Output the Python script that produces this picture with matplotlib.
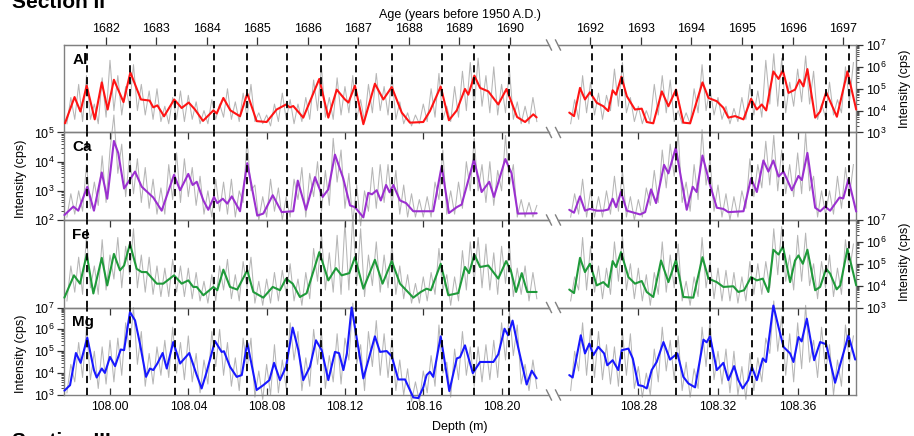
import numpy as np
import matplotlib
matplotlib.use("Agg")
import matplotlib.pyplot as plt
from matplotlib.lines import Line2D
from matplotlib.ticker import LogLocator, NullFormatter, FixedLocator, FormatStrFormatter

plt.rcParams['font.family'] = ['Liberation Sans', 'DejaVu Sans']
plt.rcParams['mathtext.default'] = 'regular'

# ---------------------------------------------------------------- data
elements = ['Al', 'Ca', 'Fe', 'Mg']
decades = {'Al': (3, 7), 'Ca': (2, 5), 'Fe': (3, 7), 'Mg': (3, 7)}

# raw XRF scans (log10 cps) on a 2 mm depth step
raw_depth_left = np.linspace(107.978, 108.218, 121)
raw_depth_right = np.linspace(108.246, 108.388, 72)

al_raw_left = [3.4, 4.6, 3.6, 5.2, 3.5, 5.6, 3.6, 4.3, 3.4, 5.5, 3.7, 6.3, 4.0, 5.6, 3.8, 5.1, 4.2, 6.1, 4.0, 5.2,
               3.8, 4.9, 3.6, 5.0, 3.5, 4.2, 3.4, 4.6, 3.6, 4.9, 3.5, 4.7, 3.6, 4.4, 3.4, 4.0, 3.4, 4.5, 3.6, 4.3,
               3.7, 5.0, 3.6, 4.4, 3.5, 4.8, 3.7, 5.2, 3.5, 3.9, 3.4, 3.8, 3.3, 4.3, 3.5, 4.8, 3.6, 4.5, 3.4, 4.3,
               3.5, 4.6, 3.6, 5.4, 4.0, 6.0, 3.7, 4.6, 3.6, 5.5, 3.8, 5.1, 3.9, 5.6, 3.6, 4.5, 3.5, 5.2, 3.9, 5.7,
               4.0, 5.1, 3.8, 5.6, 3.6, 4.4, 3.4, 3.9, 3.3, 3.8, 3.4, 4.3, 3.5, 5.0, 3.7, 5.7, 3.6, 4.2, 3.5, 5.1,
               3.7, 5.8, 4.0, 6.2, 4.1, 6.4, 4.2, 5.6, 3.9, 6.0, 3.8, 5.2, 3.9, 5.9, 3.6, 4.4, 3.4, 4.2, 3.4, 4.6,
               3.5]
al_raw_right = [3.4, 4.5, 3.6, 5.6, 3.9, 5.3, 3.8, 4.8, 3.6, 4.7, 4.0, 5.9, 4.2, 6.2, 3.9, 4.6, 3.5, 4.2, 3.4, 4.0,
                3.5, 5.2, 3.8, 5.6, 3.9, 5.4, 3.5, 4.0, 3.4, 3.9, 3.4, 5.0, 3.9, 6.1, 4.0, 5.0, 3.8, 4.6, 3.6, 4.2,
                3.4, 4.1, 3.5, 4.6, 3.6, 5.2, 3.8, 4.9, 3.7, 6.3, 4.3, 6.6, 4.2, 6.4, 3.9, 5.3, 4.2, 5.9, 4.4, 6.5,
                4.3, 5.8, 3.6, 4.3, 3.7, 5.3, 3.8, 4.5, 3.9, 6.0, 4.4, 6.2]
ca_raw_left = [2.1, 2.9, 2.2, 3.0, 2.3, 3.9, 2.4, 3.3, 2.5, 4.2, 2.6, 4.4, 5.6, 3.6, 4.6, 2.8, 4.2, 2.9, 4.1, 2.6,
               3.8, 2.4, 3.4, 2.2, 3.1, 2.2, 3.9, 2.7, 4.3, 2.6, 4.1, 2.8, 3.8, 2.5, 3.5, 2.2, 3.0, 2.1, 3.4, 2.3,
               3.3, 2.2, 3.4, 2.1, 3.0, 2.6, 4.8, 3.0, 3.2, 2.0, 2.8, 2.1, 3.4, 2.3, 3.1, 2.0, 2.8, 2.1, 3.4, 2.7,
               3.8, 2.1, 3.6, 2.8, 4.0, 2.3, 3.7, 2.5, 4.8, 3.3, 4.4, 2.4, 3.6, 1.9, 3.2, 1.8, 3.0, 2.3, 3.8, 2.4,
               3.9, 2.6, 3.9, 2.5, 3.7, 2.2, 3.2, 2.1, 2.9, 2.1, 2.7, 2.1, 2.8, 2.1, 3.3, 2.7, 4.4, 2.2, 3.0, 2.2,
               3.3, 2.4, 4.0, 3.0, 4.8, 3.0, 3.9, 2.6, 4.0, 2.5, 3.7, 3.0, 4.9, 3.2, 3.9, 2.1, 2.7, 2.1, 2.6, 2.1,
               2.5]
ca_raw_right = [2.1, 2.9, 2.2, 3.4, 2.1, 3.0, 2.1, 2.8, 2.1, 3.0, 2.2, 3.5, 2.3, 3.7, 2.1, 2.8, 2.0, 2.7, 2.1, 3.1,
                2.5, 3.7, 2.6, 4.4, 3.1, 4.6, 3.5, 5.0, 2.6, 3.3, 2.3, 3.9, 2.7, 5.1, 3.2, 4.1, 2.3, 3.2, 2.1, 2.9,
                2.0, 2.8, 2.1, 3.0, 2.4, 4.1, 2.8, 3.9, 3.1, 4.7, 3.2, 4.9, 3.0, 4.4, 2.9, 3.9, 2.8, 4.3, 2.9, 5.0,
                3.0, 3.5, 2.1, 3.0, 2.2, 3.0, 2.2, 3.5, 2.4, 3.8, 2.8, 3.9]
fe_raw_left = [3.3, 4.9, 3.7, 5.3, 3.6, 6.3, 3.9, 4.9, 3.6, 6.1, 3.8, 5.4, 4.3, 6.2, 3.9, 5.8, 4.5, 6.6, 3.9, 5.4,
               3.7, 5.3, 3.6, 4.9, 3.5, 4.8, 3.5, 5.2, 3.7, 4.9, 3.5, 4.8, 3.4, 4.6, 3.3, 4.2, 3.2, 4.5, 3.3, 4.9,
               3.8, 5.2, 3.4, 4.5, 3.3, 5.1, 3.9, 5.3, 3.2, 4.2, 3.1, 4.3, 3.2, 4.6, 3.3, 4.7, 3.6, 5.0, 3.3, 4.3,
               3.1, 4.6, 3.4, 5.7, 4.2, 6.4, 3.8, 5.5, 3.7, 6.3, 3.6, 6.9, 3.8, 7.2, 4.0, 6.6, 3.5, 5.4, 4.0, 6.0,
               3.7, 5.4, 3.9, 5.9, 3.6, 4.9, 3.4, 4.5, 3.2, 4.1, 3.2, 4.4, 3.3, 4.6, 3.6, 5.7, 3.8, 4.5, 3.1, 4.4,
               3.3, 5.6, 3.8, 6.0, 4.2, 6.2, 3.9, 5.9, 3.8, 5.5, 3.6, 5.8, 4.1, 5.9, 3.5, 4.8, 3.6, 4.9, 3.3, 4.6,
               3.4]
fe_raw_right = [3.3, 4.4, 3.8, 6.2, 3.8, 5.8, 3.7, 4.9, 3.4, 4.8, 3.6, 6.0, 4.2, 6.3, 3.8, 5.0, 3.4, 4.8, 3.3, 4.5,
                3.1, 4.6, 3.6, 6.0, 3.7, 5.4, 3.9, 5.9, 3.3, 4.2, 3.1, 4.4, 3.5, 6.2, 3.9, 5.1, 3.4, 4.8, 3.3, 4.7,
                3.3, 4.6, 3.2, 4.4, 3.3, 5.1, 3.6, 5.0, 3.6, 5.1, 3.9, 6.6, 4.5, 6.7, 4.2, 5.4, 3.8, 6.3, 4.2, 6.4,
                4.0, 5.0, 3.4, 5.1, 3.9, 5.4, 3.5, 4.8, 3.6, 6.1, 4.6, 5.9]
mg_raw_left = [3.1, 4.4, 3.6, 5.4, 3.8, 6.1, 3.7, 5.0, 3.3, 5.2, 3.5, 5.5, 3.6, 5.6, 3.9, 6.3, 5.0, 7.0, 4.4, 5.9,
               3.4, 4.9, 3.5, 5.2, 3.9, 5.5, 3.8, 6.1, 4.0, 5.4, 3.7, 5.7, 3.6, 4.9, 3.1, 4.6, 3.5, 5.9, 4.3, 6.0,
               3.9, 5.4, 3.4, 4.7, 3.2, 5.6, 4.2, 5.6, 2.9, 4.1, 2.8, 4.4, 3.0, 5.3, 3.1, 4.6, 3.3, 6.3, 4.6, 5.9,
               3.2, 4.7, 3.4, 6.0, 4.4, 5.9, 3.3, 4.8, 3.6, 5.8, 3.5, 5.6, 4.6, 7.2, 4.4, 5.3, 3.2, 5.9, 4.3, 6.4,
               3.9, 5.8, 3.8, 5.6, 3.2, 4.6, 3.0, 4.2, 2.7, 3.6, 2.7, 4.1, 3.1, 4.8, 3.4, 6.2, 4.0, 4.5, 2.9, 5.1,
               3.7, 5.9, 3.9, 5.2, 3.4, 5.2, 3.6, 5.3, 3.7, 5.5, 3.8, 6.3, 4.6, 6.8, 4.8, 6.2, 3.5, 4.4, 3.2, 4.6,
               3.3]
mg_raw_right = [3.2, 5.0, 4.1, 6.3, 3.9, 6.0, 3.8, 5.9, 3.7, 5.3, 3.5, 5.2, 3.4, 5.9, 3.9, 5.8, 3.3, 4.3, 2.9, 4.0,
                3.0, 5.1, 3.6, 6.1, 4.1, 5.5, 3.7, 5.7, 3.2, 4.5, 2.9, 4.2, 3.3, 6.1, 4.3, 6.4, 3.7, 5.0, 3.5, 5.1,
                3.1, 5.0, 3.0, 4.3, 2.8, 4.9, 3.2, 4.7, 3.6, 5.6, 4.9, 7.3, 5.0, 6.6, 3.9, 5.8, 3.6, 6.3, 4.2, 7.1,
                4.5, 5.5, 3.8, 6.1, 4.1, 5.3, 3.0, 4.6, 3.4, 6.2, 4.5, 5.7]

# smoothed records (log10 cps)
al_left_depth = [107.9770, 107.9819, 107.9849, 107.9881, 107.9922, 107.9958, 107.9988, 108.0020, 108.0069, 108.0104,
                 108.0158, 108.0202, 108.0221, 108.0242, 108.0276, 108.0328, 108.0366, 108.0402, 108.0434, 108.0475,
                 108.0528, 108.0545, 108.0579, 108.0615, 108.0664, 108.0701, 108.0749, 108.0800, 108.0851, 108.0899,
                 108.0919, 108.0936, 108.0987, 108.1069, 108.1115, 108.1158, 108.1200, 108.1218, 108.1251, 108.1294,
                 108.1353, 108.1396, 108.1439, 108.1490, 108.1532, 108.1600, 108.1634, 108.1689, 108.1731, 108.1771,
                 108.1813, 108.1830, 108.1861, 108.1890, 108.1932, 108.1983, 108.2025, 108.2079, 108.2120, 108.2162,
                 108.2179]
al_left_log = [3.42, 4.62, 3.96, 5.14, 3.60, 5.29, 4.05, 5.41, 4.39, 5.75, 4.51, 4.46, 4.15, 4.24, 3.74, 4.51, 4.12,
               4.37, 4.05, 3.53, 4.01, 3.87, 4.58, 4.01, 3.74, 4.78, 3.52, 3.48, 4.05, 4.28, 4.15, 4.21, 3.68, 5.45,
               3.68, 4.96, 4.51, 4.37, 5.14, 3.38, 5.23, 4.51, 5.08, 3.91, 3.45, 3.48, 3.98, 5.10, 3.56, 4.01, 4.99,
               4.73, 5.60, 5.04, 4.88, 4.28, 4.99, 3.71, 3.48, 3.83, 3.69]
al_right_depth = [108.2453, 108.2477, 108.2507, 108.2532, 108.2557, 108.2591, 108.2624, 108.2649, 108.2671, 108.2688,
                  108.2715, 108.2742, 108.2783, 108.2817, 108.2842, 108.2875, 108.2918, 108.2951, 108.2989, 108.3026,
                  108.3060, 108.3122, 108.3152, 108.3194, 108.3227, 108.3252, 108.3286, 108.3328, 108.3366, 108.3395,
                  108.3420, 108.3442, 108.3478, 108.3504, 108.3526, 108.3554, 108.3587, 108.3609, 108.3629, 108.3649,
                  108.3688, 108.3713, 108.3743, 108.3797, 108.3850, 108.3894]
al_right_log = [3.91, 3.75, 5.04, 4.51, 4.84, 4.36, 4.20, 3.98, 4.93, 4.73, 5.55, 4.66, 4.05, 4.09, 3.48, 3.42, 4.88,
                4.20, 4.96, 3.45, 3.42, 5.29, 4.58, 4.43, 4.13, 3.68, 3.75, 3.60, 4.54, 4.05, 4.28, 4.01, 5.79, 5.45,
                5.84, 4.81, 4.96, 5.41, 5.11, 5.90, 3.68, 3.96, 4.84, 3.72, 5.79, 4.05]

ca_left_depth = [107.9767, 107.9813, 107.9838, 107.9884, 107.9918, 107.9958, 107.9986, 108.0020, 108.0042, 108.0072,
                 108.0128, 108.0162, 108.0221, 108.0264, 108.0327, 108.0358, 108.0400, 108.0422, 108.0443, 108.0477,
                 108.0502, 108.0531, 108.0548, 108.0576, 108.0599, 108.0622, 108.0664, 108.0701, 108.0752, 108.0783,
                 108.0831, 108.0877, 108.0936, 108.0959, 108.1001, 108.1047, 108.1086, 108.1115, 108.1149, 108.1191,
                 108.1226, 108.1251, 108.1294, 108.1319, 108.1338, 108.1362, 108.1383, 108.1410, 108.1428, 108.1447,
                 108.1481, 108.1512, 108.1549, 108.1651, 108.1694, 108.1731, 108.1771, 108.1796, 108.1859, 108.1898,
                 108.1937, 108.1961, 108.2019, 108.2051, 108.2083, 108.2179]
ca_left_log = [2.17, 2.46, 2.32, 3.14, 2.32, 3.63, 2.73, 4.71, 4.30, 3.08, 3.66, 3.14, 2.77, 2.32, 3.55, 3.02, 3.58,
               3.20, 3.31, 2.67, 2.35, 2.79, 2.58, 2.73, 2.56, 2.81, 2.30, 3.95, 2.15, 2.22, 2.85, 2.27, 2.30, 3.35,
               2.35, 3.47, 2.79, 3.05, 4.24, 3.43, 2.50, 2.44, 2.09, 2.93, 2.88, 3.02, 2.67, 3.20, 2.95, 3.20, 2.67,
               2.58, 2.30, 2.30, 3.85, 2.24, 2.44, 2.53, 4.07, 2.96, 3.31, 2.79, 4.09, 3.60, 2.22, 2.23]
ca_right_depth = [108.2453, 108.2477, 108.2507, 108.2532, 108.2557, 108.2591, 108.2624, 108.2649, 108.2671, 108.2688,
                  108.2713, 108.2742, 108.2809, 108.2834, 108.2864, 108.2889, 108.2929, 108.2951, 108.2988, 108.3013,
                  108.3043, 108.3073, 108.3093, 108.3122, 108.3160, 108.3194, 108.3227, 108.3252, 108.3328, 108.3366,
                  108.3395, 108.3428, 108.3453, 108.3478, 108.3504, 108.3529, 108.3571, 108.3604, 108.3621, 108.3649,
                  108.3688, 108.3713, 108.3738, 108.3763, 108.3810, 108.3829, 108.3855, 108.3894]
ca_right_log = [2.35, 2.25, 2.81, 2.32, 2.38, 2.32, 2.32, 2.36, 2.73, 2.44, 2.96, 2.32, 2.19, 2.27, 3.05, 2.58, 3.89,
                3.60, 4.48, 3.49, 2.35, 3.14, 2.96, 4.21, 3.20, 2.42, 2.38, 2.27, 2.30, 3.43, 2.96, 4.04, 3.66, 4.04,
                3.49, 3.66, 3.02, 3.51, 3.37, 4.30, 2.42, 2.30, 2.46, 2.32, 2.77, 2.74, 3.40, 2.29]

fe_left_depth = [107.9767, 107.9816, 107.9847, 107.9881, 107.9915, 107.9958, 107.9986, 108.0020, 108.0051, 108.0072,
                 108.0102, 108.0136, 108.0162, 108.0187, 108.0239, 108.0272, 108.0327, 108.0366, 108.0400, 108.0425,
                 108.0443, 108.0477, 108.0528, 108.0548, 108.0579, 108.0613, 108.0650, 108.0701, 108.0732, 108.0783,
                 108.0831, 108.0868, 108.0899, 108.0933, 108.0970, 108.1004, 108.1069, 108.1115, 108.1154, 108.1183,
                 108.1222, 108.1251, 108.1294, 108.1353, 108.1392, 108.1439, 108.1481, 108.1549, 108.1587, 108.1617,
                 108.1639, 108.1689, 108.1728, 108.1779, 108.1813, 108.1834, 108.1861, 108.1890, 108.1932, 108.1983,
                 108.2023, 108.2047, 108.2074, 108.2103, 108.2131, 108.2179]
fe_left_log = [3.45, 4.47, 4.09, 5.42, 3.64, 5.27, 4.01, 5.45, 4.70, 4.92, 5.91, 4.77, 4.62, 4.62, 4.09, 4.09, 4.47,
               4.09, 4.24, 3.94, 3.94, 3.56, 3.94, 3.79, 4.73, 3.94, 3.82, 4.70, 3.71, 3.45, 3.94, 3.79, 4.32, 4.09,
               3.48, 3.65, 5.53, 4.24, 4.80, 4.47, 4.57, 5.30, 3.86, 5.18, 4.09, 5.12, 4.09, 3.45, 3.71, 3.86, 3.79,
               5.00, 3.56, 3.66, 4.85, 4.57, 5.42, 4.85, 4.92, 4.32, 5.12, 4.70, 3.71, 4.57, 3.71, 3.71]
fe_right_depth = [108.2453, 108.2477, 108.2507, 108.2532, 108.2557, 108.2591, 108.2624, 108.2649, 108.2671, 108.2688,
                  108.2713, 108.2750, 108.2783, 108.2817, 108.2842, 108.2875, 108.2914, 108.2951, 108.2989, 108.3026,
                  108.3076, 108.3122, 108.3152, 108.3194, 108.3227, 108.3277, 108.3302, 108.3331, 108.3366, 108.3395,
                  108.3425, 108.3453, 108.3478, 108.3504, 108.3526, 108.3562, 108.3587, 108.3604, 108.3626, 108.3649,
                  108.3688, 108.3713, 108.3743, 108.3763, 108.3796, 108.3814, 108.3850, 108.3894]
fe_right_log = [3.82, 3.66, 5.27, 4.62, 5.00, 4.01, 4.16, 3.94, 5.12, 4.85, 5.53, 4.39, 4.09, 4.21, 3.71, 3.48, 5.15,
                4.16, 5.18, 3.48, 3.45, 5.30, 4.32, 4.16, 3.94, 3.97, 3.71, 3.79, 4.39, 4.24, 4.32, 3.71, 5.64, 5.42,
                5.79, 4.16, 5.15, 5.38, 5.00, 5.64, 3.79, 3.94, 4.77, 4.55, 3.83, 4.01, 5.68, 4.01]

mg_left_depth = [107.9767, 107.9796, 107.9826, 107.9850, 107.9884, 107.9918, 107.9932, 107.9958, 107.9974, 108.0000,
                 108.0026, 108.0055, 108.0072, 108.0102, 108.0128, 108.0153, 108.0184, 108.0204, 108.0221, 108.0242,
                 108.0269, 108.0290, 108.0323, 108.0358, 108.0405, 108.0443, 108.0468, 108.0494, 108.0536, 108.0570,
                 108.0582, 108.0613, 108.0647, 108.0673, 108.0701, 108.0724, 108.0749, 108.0783, 108.0814, 108.0838,
                 108.0868, 108.0899, 108.0933, 108.0962, 108.0987, 108.1021, 108.1052, 108.1081, 108.1115, 108.1149,
                 108.1170, 108.1192, 108.1210, 108.1234, 108.1251, 108.1294, 108.1353, 108.1379, 108.1413, 108.1439,
                 108.1472, 108.1507, 108.1549, 108.1575, 108.1600, 108.1617, 108.1634, 108.1651, 108.1689, 108.1733,
                 108.1771, 108.1788, 108.1813, 108.1853, 108.1890, 108.1958, 108.1983, 108.2015, 108.2033, 108.2056,
                 108.2085, 108.2128, 108.2154, 108.2179]
mg_left_log = [3.20, 3.45, 4.92, 4.47, 5.62, 4.14, 3.80, 4.21, 4.01, 4.74, 4.32, 5.08, 5.05, 6.79, 6.41, 5.35, 3.83,
               4.21, 4.14, 4.44, 4.92, 4.21, 5.42, 4.44, 4.92, 3.91, 3.30, 4.06, 5.47, 4.97, 5.00, 4.29, 3.83, 3.91,
               5.38, 4.36, 3.23, 3.45, 3.68, 4.47, 3.68, 4.29, 6.08, 5.05, 3.68, 4.29, 5.50, 5.05, 3.68, 4.97, 4.91,
               4.14, 4.91, 7.00, 6.10, 3.76, 5.68, 4.97, 5.01, 4.77, 3.71, 3.71, 2.89, 2.86, 3.35, 3.91, 4.06, 3.83,
               5.68, 3.18, 4.67, 4.73, 5.27, 4.00, 4.51, 4.51, 4.86, 6.03, 5.73, 6.40, 5.16, 3.48, 4.11, 3.76]
mg_right_depth = [108.2453, 108.2470, 108.2511, 108.2532, 108.2554, 108.2574, 108.2599, 108.2628, 108.2644, 108.2671,
                  108.2699, 108.2717, 108.2750, 108.2772, 108.2800, 108.2822, 108.2842, 108.2867, 108.2892, 108.2926,
                  108.2959, 108.2996, 108.3026, 108.3051, 108.3085, 108.3127, 108.3143, 108.3160, 108.3194, 108.3227,
                  108.3252, 108.3281, 108.3302, 108.3324, 108.3352, 108.3370, 108.3395, 108.3425, 108.3441, 108.3478,
                  108.3504, 108.3529, 108.3562, 108.3579, 108.3604, 108.3620, 108.3646, 108.3683, 108.3713, 108.3743,
                  108.3788, 108.3855, 108.3889]
mg_right_log = [3.91, 3.80, 5.73, 4.90, 5.35, 4.82, 5.20, 4.90, 4.36, 4.59, 4.14, 5.05, 5.12, 4.67, 3.45, 3.41, 3.30,
                4.14, 4.51, 5.42, 4.62, 4.90, 3.83, 3.53, 3.35, 5.53, 5.41, 5.68, 4.14, 4.47, 3.68, 4.32, 3.68, 3.30,
                3.68, 4.29, 3.68, 4.67, 4.51, 7.09, 6.10, 5.20, 4.90, 4.51, 5.65, 5.45, 6.49, 4.59, 5.42, 5.32, 3.56,
                5.73, 4.62]

# annual layer boundaries (depth, m)
layers_left = [107.9884, 108.0102, 108.0332, 108.0533, 108.0701, 108.0903, 108.1076, 108.1255, 108.1439,
               108.1695, 108.1861, 108.2038]
layers_right = [108.2566, 108.2716, 108.2988, 108.3161, 108.3371, 108.3527, 108.3744, 108.3857]

depth_ticks_left = [108.00, 108.04, 108.08, 108.12, 108.16, 108.20]
depth_ticks_right = [108.28, 108.32, 108.36]
age_ticks_left = [1682, 1683, 1684, 1685, 1686, 1687, 1688, 1689, 1690]
age_ticks_right = [1692, 1693, 1694, 1695, 1696, 1697]
# linear age model per segment: (reference age, reference depth, years per metre)
age_model_left = (1690, 108.2041, 38.77)
age_model_right = (1692, 108.2557, 39.30)

smooth = {
    ('Al', 'L'): (al_left_depth, al_left_log), ('Al', 'R'): (al_right_depth, al_right_log),
    ('Ca', 'L'): (ca_left_depth, ca_left_log), ('Ca', 'R'): (ca_right_depth, ca_right_log),
    ('Fe', 'L'): (fe_left_depth, fe_left_log), ('Fe', 'R'): (fe_right_depth, fe_right_log),
    ('Mg', 'L'): (mg_left_depth, mg_left_log), ('Mg', 'R'): (mg_right_depth, mg_right_log),
}
raw = {
    ('Al', 'L'): al_raw_left, ('Al', 'R'): al_raw_right,
    ('Ca', 'L'): ca_raw_left, ('Ca', 'R'): ca_raw_right,
    ('Fe', 'L'): fe_raw_left, ('Fe', 'R'): fe_raw_right,
    ('Mg', 'L'): mg_raw_left, ('Mg', 'R'): mg_raw_right,
}

# ---------------------------------------------------------------- style
colors = {'Al': '#ff1414', 'Ca': '#9b30d0', 'Fe': '#1f9a3a', 'Mg': '#1818ff'}
raw_color = '#b6b6b6'
frame_color = '#808080'
W, H = 914, 436
panel_x = {'L': (64, 549), 'R': (558, 856)}
xlims = {'L': (107.97651, 108.22421), 'R': (108.23965, 108.38930)}
top_px, row_h = 45.0, 87.5

fig = plt.figure(figsize=(W / 100, H / 100), dpi=100)


def rect(side, row):
    x0, x1 = panel_x[side]
    y_top = top_px + row * row_h
    return [x0 / W, 1 - (y_top + row_h) / H, (x1 - x0) / W, row_h / H]


def age_funcs(model):
    a0, d0, k = model
    return (lambda d: a0 + (np.asarray(d) - d0) * k,
            lambda a: d0 + (np.asarray(a) - a0) / k)


for row, el in enumerate(elements):
    lo, hi = decades[el]
    for side in ('L', 'R'):
        ax = fig.add_axes(rect(side, row))
        ax.set_yscale('log')
        ax.set_xlim(*xlims[side])
        ax.set_ylim(10.0 ** lo, 10.0 ** hi)
        ax.patch.set_alpha(0)

        grid = raw_depth_left if side == 'L' else raw_depth_right
        ax.plot(grid, 10 ** np.asarray(raw[(el, side)]), color=raw_color, lw=0.75,
                clip_on=False, zorder=1)
        d, v = smooth[(el, side)]
        ax.plot(d, 10 ** np.asarray(v), color=colors[el], lw=1.5, clip_on=False, zorder=3,
                solid_joinstyle='round', solid_capstyle='round')

        for x in (layers_left if side == 'L' else layers_right):
            ax.axvline(x, color='black', lw=1.3, ls=(0, (4, 2.6)), zorder=4)

        for s in ax.spines.values():
            s.set_color(frame_color)
            s.set_linewidth(1.0)
        if side == 'L':
            ax.spines['right'].set_visible(False)
        else:
            ax.spines['left'].set_visible(False)

        # depth axis
        ax.xaxis.set_major_locator(FixedLocator(depth_ticks_left if side == 'L' else depth_ticks_right))
        ax.xaxis.set_major_formatter(FormatStrFormatter('%.2f'))
        ax.xaxis.set_minor_locator(FixedLocator([]))
        ax.tick_params(axis='x', which='major', direction='in', length=5, width=0.9,
                       color='#333333', top=(row > 0), bottom=(row == 3),
                       labelbottom=(row == 3), labeltop=False, labelsize=8.8, pad=4)

        # intensity axis
        ax.yaxis.set_major_locator(LogLocator(base=10, numticks=10))
        ax.yaxis.set_minor_locator(LogLocator(base=10, subs=np.arange(2, 10), numticks=10))
        ax.yaxis.set_minor_formatter(NullFormatter())
        on_left = side == 'L' and el in ('Ca', 'Mg')
        on_right = side == 'R' and el in ('Al', 'Fe')
        ax.tick_params(axis='y', which='both', direction='out', left=on_left, labelleft=on_left,
                       right=on_right, labelright=on_right, color='#333333', labelsize=9, pad=2)
        ax.tick_params(axis='y', which='major', length=5, width=0.9)
        ax.tick_params(axis='y', which='minor', length=2.5, width=0.6)

        if side == 'L':
            ax.text(0.017, 0.91, el, transform=ax.transAxes, fontsize=11, fontweight='bold',
                    va='top', ha='left', zorder=6)

        if row == 0:
            sec = ax.secondary_xaxis('top', functions=age_funcs(age_model_left if side == 'L'
                                                                 else age_model_right))
            sec.set_xticks(age_ticks_left if side == 'L' else age_ticks_right)
            sec.xaxis.set_major_formatter(FormatStrFormatter('%d'))
            sec.tick_params(axis='x', direction='out', length=5.5, width=0.9, color='#333333',
                            labelsize=9, pad=1.5)
            sec.spines['top'].set_color(frame_color)

# axis break marks along every horizontal frame line
for k in range(5):
    y = top_px + k * row_h
    for xc in (549, 558):
        fig.add_artist(Line2D([(xc - 2.5) / W, (xc + 2.5) / W], [1 - (y - 5) / H, 1 - (y + 5) / H],
                              transform=fig.transFigure, color=frame_color, lw=1.0))

# axis titles
ylab = 'Intensity (cps)'
fig.text(21 / W, 1 - (top_px + 1.5 * row_h + 3) / H, ylab, rotation=90, ha='center', va='center', fontsize=9)
fig.text(21 / W, 1 - (top_px + 3.5 * row_h + 3) / H, ylab, rotation=90, ha='center', va='center', fontsize=9)
fig.text(905 / W, 1 - (top_px + 0.5 * row_h) / H, ylab, rotation=90, ha='center', va='center', fontsize=9)
fig.text(905 / W, 1 - (top_px + 2.5 * row_h - 2) / H, ylab, rotation=90, ha='center', va='center', fontsize=9)
fig.text(460 / W, 1 - 15 / H, 'Age (years before 1950 A.D.)', ha='center', va='center', fontsize=9)
fig.text(460 / W, 1 - 426.5 / H, 'Depth (m)', ha='center', va='center', fontsize=9)

fig.text(12 / W, 1 - 7.5 / H, 'Section II', fontsize=15, fontweight='bold', va='baseline', ha='left')
fig.text(12 / W, 1 - 447 / H, 'Section III', fontsize=15, fontweight='bold', va='baseline', ha='left')

fig.savefig('out.png', dpi=100, facecolor='white')
